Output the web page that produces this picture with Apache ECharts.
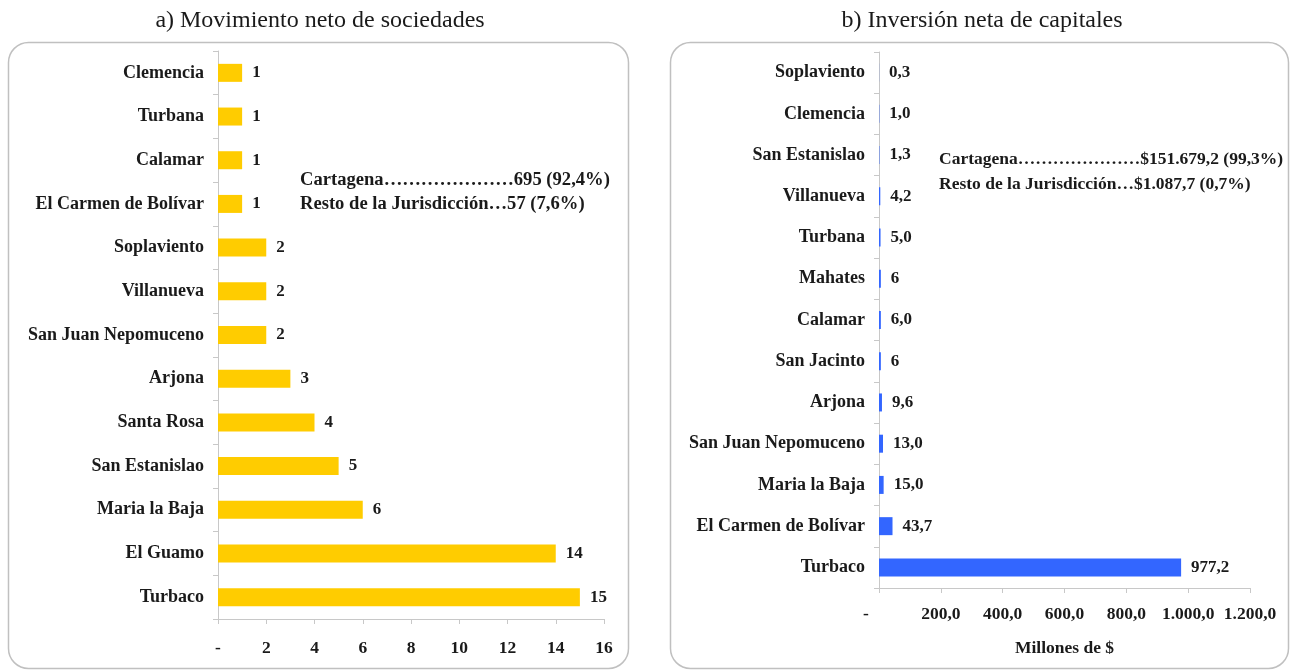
<!DOCTYPE html>
<html><head><meta charset="utf-8">
<script src="https://cdn.jsdelivr.net/npm/echarts@6/dist/echarts.min.js"></script>
<style>html,body{margin:0;padding:0;background:#fff}#c{width:1290px;height:672px}</style>
</head><body><div id="c"></div>
<script>
const catsA = ['Clemencia','Turbana','Calamar','El Carmen de Bolívar','Soplaviento','Villanueva','San Juan Nepomuceno','Arjona','Santa Rosa','San Estanislao','Maria la Baja','El Guamo','Turbaco'];
const valsA = [1,1,1,1,2,2,2,3,4,5,6,14,15];
const ticksA = [0,2,4,6,8,10,12,14,16];

const catsB = ['Soplaviento','Clemencia','San Estanislao','Villanueva','Turbana','Mahates','Calamar','San Jacinto','Arjona','San Juan Nepomuceno','Maria la Baja','El Carmen de Bolívar','Turbaco'];
const valsB = [0.3,1.0,1.3,4.2,5.0,6,6.0,6,9.6,13.0,15.0,43.7,977.2];
const labelsB = ['0,3','1,0','1,3','4,2','5,0','6','6,0','6','9,6','13,0','15,0','43,7','977,2'];
const ticksB = ['-','200,0','400,0','600,0','800,0','1.000,0','1.200,0'];

const titleA = 'a) Movimiento neto de sociedades';
const titleB = 'b) Inversión neta de capitales';
const noteA = ['Cartagena…………………695 (92,4%)','Resto de la Jurisdicción…57 (7,6%)'];
const noteB = ['Cartagena…………………$151.679,2 (99,3%)','Resto de la Jurisdicción…$1.087,7 (0,7%)'];
const axisNameB = 'Millones de $';

const F = '"Liberation Serif", "Times New Roman", serif';
const axisGray = '#c8c8c8';

const chart = echarts.init(document.getElementById('c'), null, {renderer:'canvas'});
const labStyle = {fontFamily:F, fontWeight:'bold', fontSize:18, color:'#1a1a1a'};
const tickStyle = {fontFamily:F, fontWeight:'bold', fontSize:17.5, color:'#1a1a1a'};

chart.setOption({
  animation:false,
  backgroundColor:'#fff',
  grid:[
    {left:218, top:51, width:386, height:568},
    {left:879, top:52, width:371, height:536}
  ],
  xAxis:[
    {gridIndex:0, type:'value', min:0, max:16, interval:2,
     axisLine:{show:true, lineStyle:{color:axisGray}}, axisTick:{show:true, length:5, lineStyle:{color:axisGray}},
     splitLine:{show:false},
     axisLabel:{...tickStyle, margin:20, formatter:v=> v===0 ? '-' : String(ticksA[ticksA.indexOf(v)])}},
    {gridIndex:1, type:'value', min:0, max:1200, interval:200,
     axisLine:{show:true, lineStyle:{color:axisGray}}, axisTick:{show:true, length:5, lineStyle:{color:axisGray}},
     splitLine:{show:false},
     name:axisNameB, nameLocation:'middle', nameGap:51, nameTextStyle:{...tickStyle},
     axisLabel:{...tickStyle, margin:17, formatter:v=> v===0 ? '{d|-}' : ticksB[v/200],
       rich:{d:{...tickStyle, padding:[0,26,0,0]}}}}
  ],
  yAxis:[
    {gridIndex:0, type:'category', data:catsA, inverse:true,
     axisLine:{show:true, lineStyle:{color:axisGray}}, axisTick:{show:true, length:5, lineStyle:{color:axisGray}},
     axisLabel:{...labStyle, margin:14}},
    {gridIndex:1, type:'category', data:catsB, inverse:true,
     axisLine:{show:true, lineStyle:{color:axisGray}}, axisTick:{show:true, length:5, lineStyle:{color:axisGray}},
     axisLabel:{...labStyle, margin:14}}
  ],
  series:[
    {type:'bar', xAxisIndex:0, yAxisIndex:0, data:valsA, barWidth:18,
     itemStyle:{color:'#FFCC00'},
     label:{show:true, position:'right', distance:10, ...tickStyle, fontSize:17}},
    {type:'bar', xAxisIndex:1, yAxisIndex:1, data:valsB, barWidth:18,
     itemStyle:{color:'#3366FF'},
     label:{show:true, position:'right', distance:10, ...tickStyle, fontSize:17,
       formatter:p=>labelsB[p.dataIndex]}}
  ],
  graphic:[
    {type:'rect', shape:{x:8.5, y:42.5, width:620, height:626, r:20}, style:{fill:'none', stroke:'#c0c0c0', lineWidth:1.5}, z:-1},
    {type:'rect', shape:{x:670.5, y:42.5, width:618, height:626, r:20}, style:{fill:'none', stroke:'#c0c0c0', lineWidth:1.5}, z:-1},
    {type:'text', x:320, y:21, style:{text:titleA, font:'24px '+F, fill:'#1a1a1a', textAlign:'center', textVerticalAlign:'middle'}},
    {type:'text', x:982, y:21, style:{text:titleB, font:'24px '+F, fill:'#1a1a1a', textAlign:'center', textVerticalAlign:'middle'}},
    {type:'text', x:300, y:180, style:{text:noteA[0], font:'bold 18.6px '+F, fill:'#1a1a1a', textVerticalAlign:'middle'}},
    {type:'text', x:300, y:204, style:{text:noteA[1], font:'bold 18.6px '+F, fill:'#1a1a1a', textVerticalAlign:'middle'}},
    {type:'text', x:939, y:159, style:{text:noteB[0], font:'bold 17.5px '+F, fill:'#1a1a1a', textVerticalAlign:'middle'}},
    {type:'text', x:939, y:184, style:{text:noteB[1], font:'bold 17.5px '+F, fill:'#1a1a1a', textVerticalAlign:'middle'}}
  ]
});
</script></body></html>
